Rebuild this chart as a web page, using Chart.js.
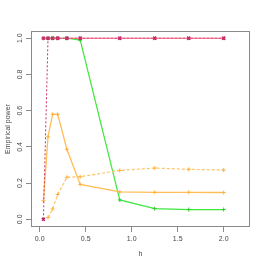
<!DOCTYPE html>
<html>
<head>
<meta charset="utf-8">
<script src="https://cdn.jsdelivr.net/npm/chart.js@4"></script>
<style>
  html, body { margin: 0; padding: 0; background: #fff; }
  #wrap { width: 266px; height: 266px; }
</style>
</head>
<body>
<div id="wrap"><canvas id="powerChart"></canvas></div>
<script>
// bandwidths h (x axis)
const hValues = [0.04, 0.09, 0.14, 0.195, 0.295, 0.44, 0.87, 1.25, 1.62, 2.0];

// empirical power per method
const redSolid   = [1, 1, 1, 1, 1, 1, 1, 1, 1, 1];
const redDashed  = [0, 1, 1, 1, 1, 1, 1, 1, 1, 1];
const greenSolid = [1, 1, 1, 1, 1, 0.99, 0.107, 0.059, 0.054, 0.054];
const orangeSolid  = [0.103, 0.456, 0.58, 0.58, 0.387, 0.193, 0.151, 0.149, 0.149, 0.148];
const orangeDashed = [null, 0.01, 0.057, 0.137, 0.232, 0.235, 0.27, 0.283, 0.276, 0.272];

const xTicks = [0, 0.5, 1.0, 1.5, 2.0];
const yTicks = [0, 0.2, 0.4, 0.6, 0.8, 1.0];

function toPoints(ys) {
    return hValues.map(function (h, i) { return { x: h, y: ys[i] }; });
}

const axisGrey = '#8a8a8a';
const textGrey = '#444';
const font = { family: '"Liberation Sans", Arial, sans-serif', size: 7 };

// R-style box around the plot region, plus vertical y tick labels
const boxPlugin = {
    id: 'box',
    afterDraw: function (chart) {
        const a = chart.chartArea;
        const c = chart.ctx;
        c.save();
        c.strokeStyle = axisGrey;
        c.lineWidth = 1;
        c.strokeRect(Math.round(a.left) + 0.5, Math.round(a.top) + 0.5,
            Math.round(a.right - a.left) - 1, Math.round(a.bottom - a.top) - 1);

        const yScale = chart.scales.y;
        c.fillStyle = textGrey;
        c.font = font.size + 'px ' + font.family;
        c.textAlign = 'center';
        c.textBaseline = 'middle';
        yTicks.forEach(function (v) {
            c.save();
            c.translate(20, yScale.getPixelForValue(v));
            c.rotate(-Math.PI / 2);
            c.fillText(v.toFixed(1), 0, 0);
            c.restore();
        });
        c.restore();
    }
};

const ctx = document.getElementById('powerChart').getContext('2d');
new Chart(ctx, {
    type: 'scatter',
    data: {
        datasets: [
            {
                data: toPoints(redSolid),
                showLine: true,
                borderColor: '#f0587a',
                borderWidth: 1,
                pointStyle: 'crossRot',
                pointRadius: 2,
                pointBorderColor: '#c2306c',
                pointBorderWidth: 1.5
            },
            {
                data: toPoints(redDashed),
                showLine: true,
                borderColor: '#c8305a',
                borderWidth: 1,
                borderDash: [2, 2],
                pointStyle: 'crossRot',
                pointRadius: 2,
                pointBorderColor: '#b82860',
                pointBorderWidth: 1.5
            },
            {
                data: toPoints(orangeSolid),
                showLine: true,
                borderColor: '#ffbd55',
                borderWidth: 1.3,
                pointStyle: 'cross',
                pointRadius: 2,
                pointBorderColor: '#ffb040',
                pointBorderWidth: 1
            },
            {
                data: toPoints(orangeDashed),
                showLine: true,
                borderColor: '#ffc466',
                borderWidth: 1.2,
                borderDash: [3, 2],
                pointStyle: 'cross',
                pointRadius: 2,
                pointBorderColor: '#ffb040',
                pointBorderWidth: 1
            },
            {
                data: toPoints(greenSolid),
                showLine: true,
                borderColor: '#3ee83e',
                borderWidth: 1.2,
                pointStyle: 'cross',
                pointRadius: 2,
                pointBorderColor: '#2ccc2c',
                pointBorderWidth: 1
            }
        ]
    },
    options: {
        responsive: true,
        maintainAspectRatio: false,
        animation: false,
        layout: { padding: { top: 31, right: 16, left: 0, bottom: 0 } },
        scales: {
            x: {
                type: 'linear',
                min: -0.095,
                max: 2.286,
                afterBuildTicks: function (scale) {
                    scale.ticks = xTicks.map(function (v) { return { value: v }; });
                },
                afterFit: function (scale) { scale.height = 39; },
                grid: { display: true, drawOnChartArea: false, tickLength: 5, color: axisGrey },
                border: { display: false },
                ticks: {
                    autoSkip: false,
                    maxRotation: 0,
                    padding: 3,
                    color: textGrey,
                    font: font,
                    callback: function (v) { return Number(v).toFixed(1); }
                },
                title: { display: true, text: 'h', color: textGrey, font: font, padding: { top: 0, bottom: 8 } }
            },
            y: {
                min: -0.0425,
                max: 1.04,
                afterBuildTicks: function (scale) {
                    scale.ticks = yTicks.map(function (v) { return { value: v }; });
                },
                afterFit: function (scale) { scale.width = 31; },
                grid: { display: true, drawOnChartArea: false, tickLength: 5, color: axisGrey },
                border: { display: false },
                ticks: { display: false, autoSkip: false },
                title: { display: true, text: 'Empirical power', color: textGrey, font: font, padding: { top: 4, bottom: 0 } }
            }
        },
        plugins: {
            legend: { display: false },
            tooltip: { enabled: false }
        }
    },
    plugins: [boxPlugin]
});
</script>
</body>
</html>
